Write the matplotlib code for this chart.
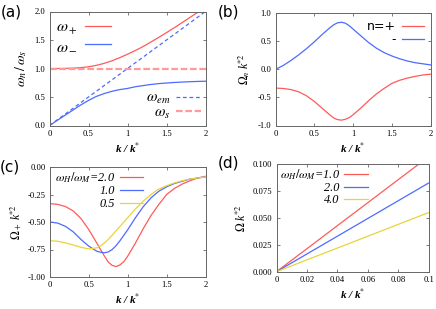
import numpy as np
import matplotlib
matplotlib.use('Agg')
import matplotlib.pyplot as plt

plt.rcParams['font.family'] = ['Liberation Serif', 'DejaVu Serif']
plt.rcParams['mathtext.fontset'] = 'stix'

RED = '#ff5a5a'
BLUE = '#4d6bff'
YELLOW = '#e9d43a'
PINK = '#ff9a9a'
FRAME = '#666666'

# ---- data ----
k = [0.0, 0.1, 0.2, 0.3, 0.4, 0.5, 0.6, 0.7, 0.8, 0.9, 1.0,
     1.1, 1.2, 1.3, 1.4, 1.5, 1.6, 1.7, 1.8, 1.9, 2.0]

# panel (a)
w_plus = [1.0, 1.0, 1.002, 1.006, 1.015, 1.03, 1.055, 1.09, 1.135, 1.19, 1.25,
          1.315, 1.385, 1.465, 1.545, 1.63, 1.715, 1.805, 1.895, 1.985, 2.075]
w_minus = [0.0, 0.09, 0.18, 0.27, 0.36, 0.44, 0.51, 0.56, 0.60, 0.63, 0.65,
           0.68, 0.70, 0.72, 0.735, 0.745, 0.755, 0.762, 0.768, 0.773, 0.777]
k_line = [0.0, 2.0]
w_em = [0.0, 2.0]
w_s = [1.0, 1.0]

# panel (b)
k_b = [0.0, 0.0, 0.1, 0.2, 0.3, 0.4, 0.5, 0.6, 0.65, 0.7, 0.75, 0.8, 0.85, 0.9, 0.95, 1.0,
       1.05, 1.1, 1.2, 1.3, 1.4, 1.5, 1.6, 1.7, 1.8, 1.9, 2.0]
omega_plus = [0.0, -0.333, -0.34, -0.36, -0.40, -0.47, -0.57, -0.69, -0.75, -0.81, -0.865, -0.895,
              -0.905, -0.89, -0.86, -0.81, -0.75, -0.69, -0.56, -0.44, -0.34, -0.25, -0.195,
              -0.155, -0.125, -0.10, -0.085]
k_m = [0.0, 0.1, 0.2, 0.3, 0.4, 0.5, 0.6, 0.65, 0.7, 0.75, 0.8, 0.85, 0.9, 0.95, 1.0,
       1.05, 1.1, 1.2, 1.3, 1.4, 1.5, 1.6, 1.7, 1.8, 1.9, 2.0]
omega_minus = [0.0, 0.07, 0.16, 0.26, 0.37, 0.49, 0.62, 0.68, 0.74, 0.795, 0.83, 0.84, 0.825,
               0.78, 0.72, 0.66, 0.60, 0.48, 0.38, 0.30, 0.24, 0.19, 0.15, 0.12, 0.10, 0.08]

# panel (c): omega_H/omega_M = 2.0, 1.0, 0.5
ratios_c = ['2.0', '1.0', '0.5']
k_c = k_b[1:]
omega_c_20 = omega_plus[1:]
omega_c_10 = [-0.50, -0.51, -0.54, -0.59, -0.66, -0.72, -0.765, -0.775, -0.78, -0.772, -0.75, -0.715,
              -0.67, -0.62, -0.57, -0.515, -0.46, -0.36, -0.28, -0.22, -0.18, -0.15, -0.13, -0.11,
              -0.10, -0.09]
omega_c_05 = [-0.67, -0.675, -0.69, -0.71, -0.73, -0.745, -0.735, -0.717, -0.69, -0.658, -0.62, -0.58,
              -0.54, -0.50, -0.46, -0.42, -0.38, -0.31, -0.25, -0.20, -0.17, -0.145, -0.125, -0.11,
              -0.10, -0.09]

# panel (d): omega_H/omega_M = 1.0, 2.0, 4.0
ratios_d = ['1.0', '2.0', '4.0']
k_d = [0.0, 0.1]
omega_d_10 = [0.0, 0.107]
omega_d_20 = [0.0, 0.0825]
omega_d_40 = [0.0, 0.055]

fig = plt.figure(figsize=(4.36, 3.09), dpi=100)
W, H = 436.0, 309.0


def make_axes(l, r, t, b):
    ax = fig.add_axes([l / W, 1 - b / H, (r - l) / W, (b - t) / H])
    for s in ax.spines.values():
        s.set_color(FRAME)
        s.set_linewidth(0.7)
    ax.tick_params(direction='in', top=True, right=True, length=2.5, width=0.6,
                   color=FRAME, labelsize=6.2, pad=3)
    return ax


xlab = dict(fontsize=8, fontstyle='italic', fontweight='bold')
xlabel_text = 'k / k$^{*}$'

# ---- (a) ----
ax = make_axes(49.5, 205.5, 11.5, 125.5)
l1, = ax.plot(k, w_plus, color=RED, lw=0.9)
l2, = ax.plot(k, w_minus, color=BLUE, lw=0.9)
l3, = ax.plot(k_line, w_em, color=BLUE, lw=0.9, dashes=(3, 2.2))
l4, = ax.plot(k_line, w_s, color=PINK, lw=1.6, dashes=(3, 1.2))
ax.set_xlim(0, 2)
ax.set_ylim(0, 2)
ax.set_xticks([0, 0.5, 1, 1.5, 2])
ax.set_xticklabels(['0', '0.5', '1', '1.5', '2'])
ax.set_yticks([0, 0.5, 1, 1.5, 2])
ax.set_yticklabels(['0.0', '0.5', '1.0', '1.5', '2.0'])
ax.set_xlabel(xlabel_text, labelpad=2, **xlab)
ax.set_ylabel(r'$\omega_n\,/\,\omega_s$', fontsize=10, labelpad=4)
leg = ax.legend([l1, l2], [r'$\omega_+$', r'$\omega_-$'], loc='upper left',
                bbox_to_anchor=(0.04, 0.93), frameon=False, markerfirst=False,
                fontsize=11.5, handlelength=1.6, handletextpad=0.5, labelspacing=0.1,
                borderpad=0, borderaxespad=0)
ax.add_artist(leg)
ax.legend([l3, l4], [r'$\omega_{em}$', r'$\omega_s$'], loc='lower right',
          bbox_to_anchor=(0.97, 0.04), frameon=False, markerfirst=False,
          fontsize=11, handlelength=1.6, handletextpad=0.4, labelspacing=0.0,
          borderpad=0, borderaxespad=0)

# ---- (b) ----
ax = make_axes(275.5, 430.5, 13.3, 125.5)
ax.plot(k_b, omega_plus, color=RED, lw=0.9, label='n=+')
ax.plot(k_m, omega_minus, color=BLUE, lw=0.9, label='-')
ax.set_xlim(0, 2)
ax.set_ylim(-1, 1)
ax.set_xticks([0, 0.5, 1, 1.5, 2])
ax.set_xticklabels(['0', '0.5', '1', '1.5', '2'])
ax.set_yticks([-1, -0.5, 0, 0.5, 1])
ax.set_yticklabels(['-1.0', '-0.5', '0.0', '0.5', '1.0'])
ax.set_xlabel(xlabel_text, labelpad=2, **xlab)
ax.set_ylabel(r'$\Omega_n$' + ' k$^{*2}$', fontsize=8.5, fontstyle='italic', labelpad=4)
ax.legend(loc='upper right', bbox_to_anchor=(0.96, 0.94), frameon=False, markerfirst=False,
          prop={'family': 'DejaVu Sans', 'size': 9}, handlelength=1.8,
          handletextpad=0.5, labelspacing=0.02, borderpad=0, borderaxespad=0)

# ---- (c) ----
ax = make_axes(50, 205.5, 167, 277)
ax.plot(k_c, omega_c_20, color=RED, lw=0.9, label=r'$\omega_H/\omega_M$=' + ratios_c[0])
ax.plot(k_m, omega_c_10, color=BLUE, lw=0.9, label=ratios_c[1])
ax.plot(k_m, omega_c_05, color=YELLOW, lw=0.9, label=ratios_c[2])
ax.set_xlim(0, 2)
ax.set_ylim(-1, 0)
ax.set_xticks([0, 0.5, 1, 1.5, 2])
ax.set_xticklabels(['0', '0.5', '1', '1.5', '2'])
ax.set_yticks([-1, -0.75, -0.5, -0.25, 0])
ax.set_yticklabels(['-1.00', '-0.75', '-0.50', '-0.25', '0.00'])
ax.set_xlabel(xlabel_text, labelpad=2, **xlab)
ax.set_ylabel(r'$\Omega_+$' + ' k$^{*2}$', fontsize=8.5, fontstyle='italic', labelpad=3)
ax.legend(loc='upper left', bbox_to_anchor=(0.03, 0.97), frameon=False, markerfirst=False,
          prop={'style': 'italic', 'size': 8.8}, handlelength=1.9,
          handletextpad=0.4, labelspacing=0.05, borderpad=0, borderaxespad=0)

# ---- (d) ----
ax = make_axes(276.5, 428.5, 164.3, 271.7)
ax.plot(k_d, omega_d_10, color=RED, lw=0.9, label=r'$\omega_H/\omega_M$=' + ratios_d[0])
ax.plot(k_d, omega_d_20, color=BLUE, lw=0.9, label=ratios_d[1])
ax.plot(k_d, omega_d_40, color=YELLOW, lw=0.9, label=ratios_d[2])
ax.set_xlim(0, 0.1)
ax.set_ylim(0, 0.1)
ax.set_xticks([0, 0.02, 0.04, 0.06, 0.08, 0.1])
ax.set_xticklabels(['0', '0.02', '0.04', '0.06', '0.08', '0.1'])
ax.set_yticks([0, 0.025, 0.05, 0.075, 0.1])
ax.set_yticklabels(['0.000', '0.025', '0.050', '0.075', '0.100'])
ax.set_xlabel(xlabel_text, labelpad=2, **xlab)
ax.set_ylabel(r'$\Omega$' + ' k$^{*2}$', fontsize=8.5, fontstyle='italic', labelpad=3)
ax.legend(loc='upper left', bbox_to_anchor=(0.02, 0.97), frameon=False, markerfirst=False,
          prop={'style': 'italic', 'size': 8.8}, handlelength=1.9,
          handletextpad=0.4, labelspacing=0.0, borderpad=0, borderaxespad=0)

# panel letters
for lab, x, y in [('(a)', 1, 12), ('(b)', 218, 12), ('(c)', 0, 167), ('(d)', 218, 163)]:
    fig.text(x / W, 1 - y / H, lab, family='DejaVu Sans', fontsize=11, va='center', ha='left')

fig.savefig('out.png', dpi=100)
